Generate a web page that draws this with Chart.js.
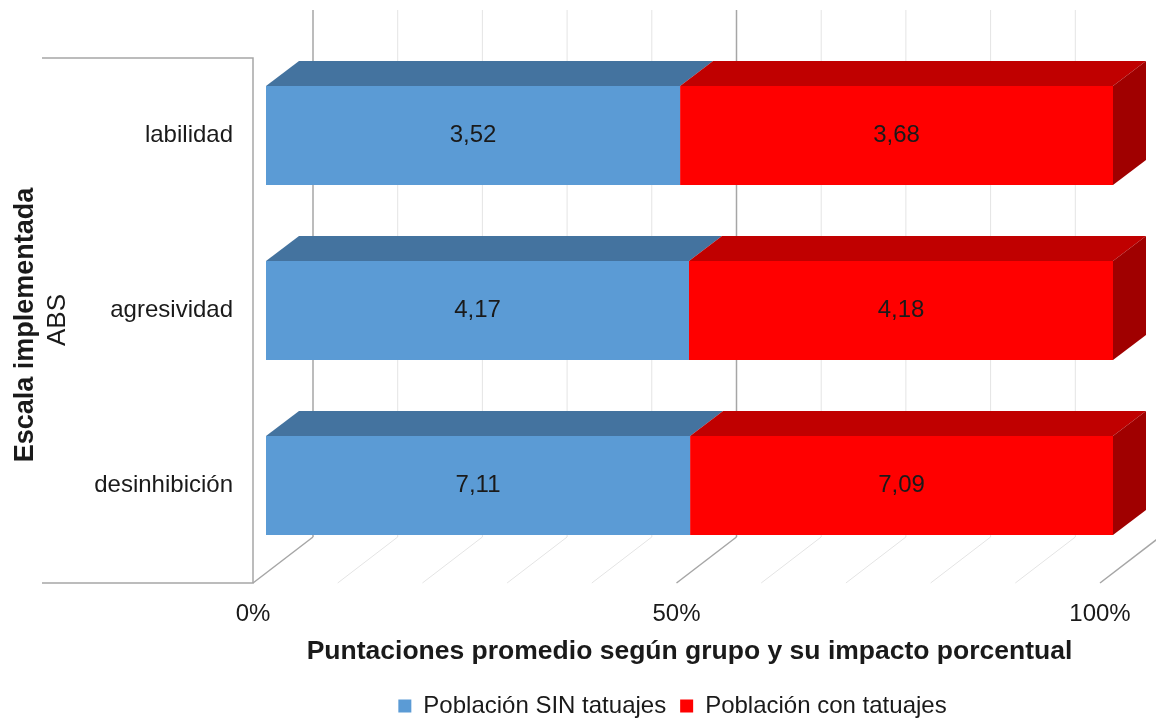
<!DOCTYPE html>
<html>
<head>
<meta charset="utf-8">
<script src="https://cdn.jsdelivr.net/npm/chart.js@4"></script>
<style>
  html, body { margin: 0; padding: 0; background: #fff; }
  #wrap { width: 1156px; height: 718px; }
</style>
</head>
<body>
<div id="wrap"><canvas id="myChart" width="1156" height="718"></canvas></div>
<script>
const categories = ["labilidad", "agresividad", "desinhibición"];
const sinTatuajes = [3.52, 4.17, 7.11];
const conTatuajes = [3.68, 4.18, 7.09];
const seriesNames = ["Población SIN tatuajes", "Población con tatuajes"];
const percentTicks = [0, 50, 100];

// share of each row, so both segments fill 100%
const totals = sinTatuajes.map((v, i) => v + conTatuajes[i]);
const sinPct = sinTatuajes.map((v, i) => v / totals[i] * 100);
const conPct = conTatuajes.map((v, i) => v / totals[i] * 100);
const rawValues = [sinTatuajes, conTatuajes];

const FONT = "'Liberation Sans', Arial, sans-serif";
const BAR = { dx: 33, dy: -25 };    // depth of the bars
const WALL = { dx: 47, dy: -36 };   // back wall behind the bar plane
const FRONT = { dx: -13, dy: 10 };  // floor edge in front of the bars
const topColors = ["#44739F", "#C00000"];
const sideColors = ["#3A6690", "#A00000"];

const fmt = v => v.toFixed(2).replace(".", ",");

const box3d = {
    id: "box3d",
    afterLayout(chart) {
        // centre the legend under the floor edge rather than the bar plane
        const lg = chart.legend;
        if (lg) {
            lg.left -= 17;
            lg.right -= 17;
        }
    },
    beforeDatasetsDraw(chart) {
        const { ctx, chartArea: a, scales: { x } } = chart;
        ctx.save();
        for (let v = 0; v <= 100; v += 10) {
            const major = v % 50 === 0;
            ctx.strokeStyle = major ? "#A6A6A6" : "#E4E4E4";
            ctx.lineWidth = major ? 1.5 : 1;
            const px = x.getPixelForValue(v);
            // wall
            ctx.beginPath();
            ctx.moveTo(px + WALL.dx, a.top + WALL.dy - 2);
            ctx.lineTo(px + WALL.dx, a.bottom + WALL.dy);
            ctx.stroke();
            // floor
            ctx.beginPath();
            ctx.moveTo(px + FRONT.dx, a.bottom + FRONT.dy);
            ctx.lineTo(px + WALL.dx, a.bottom + WALL.dy);
            ctx.stroke();
        }
        // side frame around the category labels
        ctx.strokeStyle = "#A6A6A6";
        ctx.lineWidth = 1.5;
        ctx.beginPath();
        ctx.moveTo(42, a.top + FRONT.dy);
        ctx.lineTo(a.left + FRONT.dx, a.top + FRONT.dy);
        ctx.lineTo(a.left + FRONT.dx, a.bottom + FRONT.dy);
        ctx.lineTo(42, a.bottom + FRONT.dy);
        ctx.stroke();
        ctx.restore();
    },
    afterDatasetsDraw(chart) {
        const { ctx } = chart;
        const last = chart.data.datasets.length - 1;
        ctx.save();
        chart.data.datasets.forEach((ds, di) => {
            const meta = chart.getDatasetMeta(di);
            meta.data.forEach((bar, i) => {
                const { x, y, base, height } = bar.getProps(["x", "y", "base", "height"], true);
                const t = y - height / 2, b = y + height / 2;
                // top face
                ctx.fillStyle = topColors[di];
                ctx.beginPath();
                ctx.moveTo(base, t);
                ctx.lineTo(x, t);
                ctx.lineTo(x + BAR.dx, t + BAR.dy);
                ctx.lineTo(base + BAR.dx, t + BAR.dy);
                ctx.closePath();
                ctx.fill();
                // right face on the end segment
                if (di === last) {
                    ctx.fillStyle = sideColors[di];
                    ctx.beginPath();
                    ctx.moveTo(x, t);
                    ctx.lineTo(x + BAR.dx, t + BAR.dy);
                    ctx.lineTo(x + BAR.dx, b + BAR.dy);
                    ctx.lineTo(x, b);
                    ctx.closePath();
                    ctx.fill();
                }
                ctx.fillStyle = "#1A1A1A";
                ctx.font = "24px " + FONT;
                ctx.textAlign = "center";
                ctx.textBaseline = "middle";
                ctx.fillText(fmt(rawValues[di][i]), (x + base) / 2, y);
            });
        });
        // category axis titles
        ctx.fillStyle = "#1A1A1A";
        ctx.textAlign = "center";
        ctx.textBaseline = "middle";
        ctx.save();
        ctx.translate(26, 325);
        ctx.rotate(-Math.PI / 2);
        ctx.font = "bold 27px " + FONT;
        ctx.fillText("Escala implementada", 0, 0);
        ctx.restore();
        ctx.save();
        ctx.translate(58, 320);
        ctx.rotate(-Math.PI / 2);
        ctx.font = "26px " + FONT;
        ctx.fillText("ABS", 0, 0);
        ctx.restore();
        ctx.restore();
    }
};

const ctx = document.getElementById("myChart").getContext("2d");
const myChart = new Chart(ctx, {
    type: "bar",
    data: {
        labels: categories,
        datasets: [{
            label: seriesNames[0],
            data: sinPct,
            backgroundColor: "#5B9BD5",
        }, {
            label: seriesNames[1],
            data: conPct,
            backgroundColor: "#FF0000",
        }],
    },
    options: {
        indexAxis: "y",
        responsive: false,
        animation: false,
        categoryPercentage: 1,
        barPercentage: 0.566,
        layout: {
            padding: { top: 48, right: 43, bottom: -10, left: 0 },
        },
        scales: {
            x: {
                stacked: true,
                min: 0,
                max: 100,
                grid: { display: false, drawTicks: false },
                border: { display: false },
                ticks: {
                    stepSize: 10,
                    padding: 27,
                    labelOffset: -13,
                    color: "#1A1A1A",
                    font: { family: FONT, size: 24 },
                    callback: v => percentTicks.includes(v) ? v + "%" : "",
                    maxRotation: 0,
                    autoSkip: false,
                },
                title: {
                    display: true,
                    text: "Puntaciones promedio según grupo y su impacto porcentual",
                    color: "#1A1A1A",
                    font: { family: FONT, size: 26.5, weight: "bold" },
                    padding: { top: 0, bottom: 12 },
                },
                afterFit: s => {
                    s.height = 107;
                    s.paddingLeft = 0;
                    s.paddingRight = 0;
                },
            },
            y: {
                stacked: true,
                grid: { display: false, drawTicks: false },
                border: { display: false },
                ticks: {
                    padding: 33,
                    color: "#1A1A1A",
                    font: { family: FONT, size: 24 },
                },
                afterFit: s => { s.width = 266; },
            },
        },
        plugins: {
            legend: {
                position: "bottom",
                fullSize: false,
                labels: {
                    boxWidth: 13,
                    boxHeight: 13,
                    padding: 14,
                    color: "#1A1A1A",
                    font: { family: FONT, size: 24 },
                },
            },
            tooltip: { enabled: false },
        },
    },
    plugins: [box3d],
});
</script>
</body>
</html>
